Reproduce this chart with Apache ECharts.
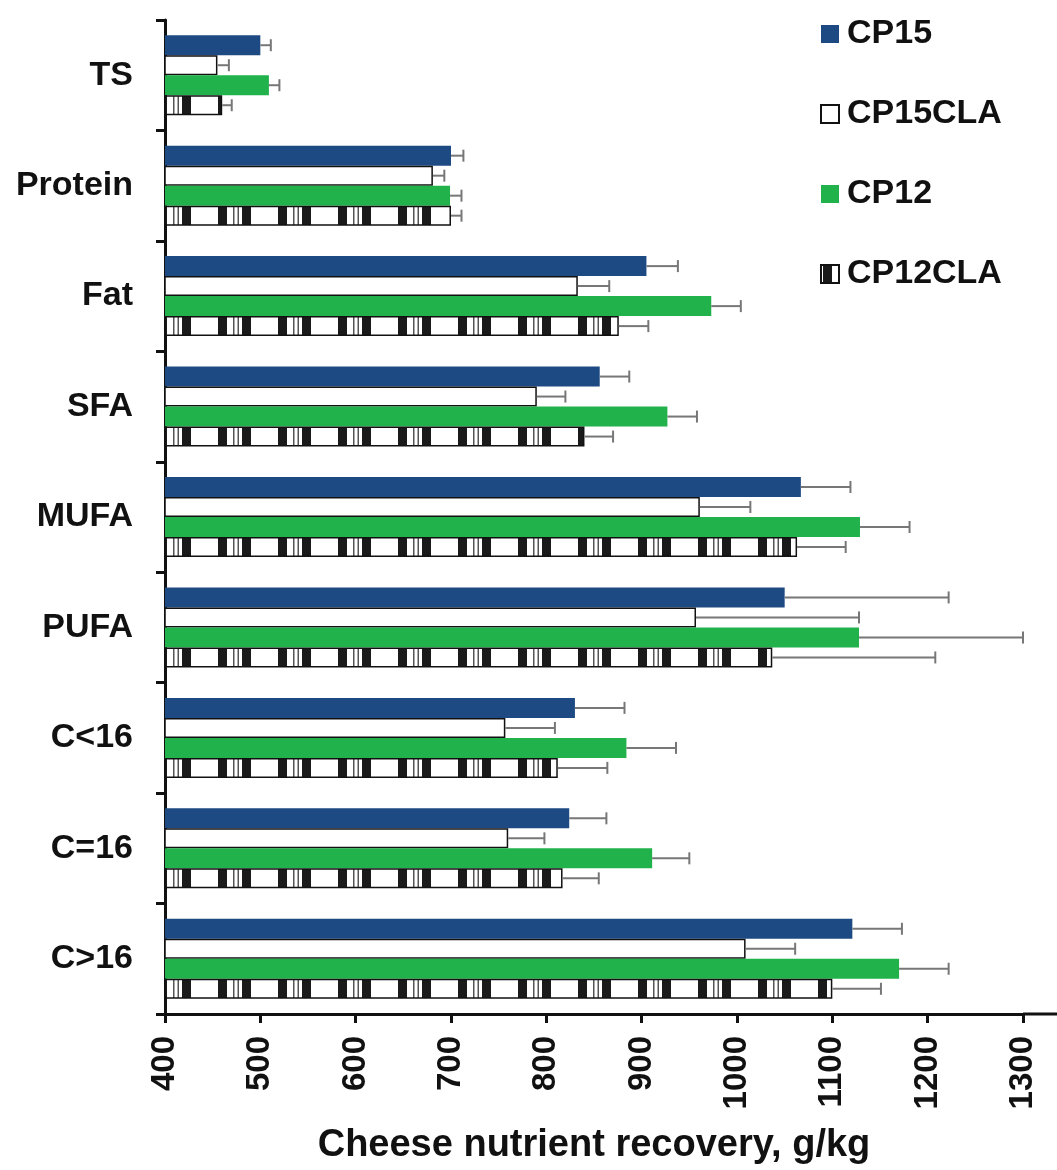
<!DOCTYPE html>
<html><head><meta charset="utf-8">
<script src="https://cdn.jsdelivr.net/npm/echarts@6/dist/echarts.min.js"></script>
<style>html,body{margin:0;padding:0;background:#fff}#c{width:1057px;height:1170px}</style>
</head><body><div id="c"></div>
<script>
// ---- data ----
const categories = ['TS', 'Protein', 'Fat', 'SFA', 'MUFA', 'PUFA', 'C<16', 'C=16', 'C>16'];
const seriesNames = ['CP15', 'CP15CLA', 'CP12', 'CP12CLA'];
const cp15      = [500, 700, 905, 856, 1067, 1050, 830, 824, 1121];
const cp15Err   = [11, 13, 33, 31, 52, 172, 52, 39, 52];
const cp15cla   = [455, 681, 833, 790, 961, 957, 757, 760, 1009];
const cp15claErr= [12, 12, 33, 30, 53, 171, 52, 38, 52];
const cp12      = [509, 699, 973, 927, 1129, 1128, 884, 911, 1170];
const cp12Err   = [11, 12, 31, 31, 52, 172, 52, 39, 52];
const cp12cla   = [460, 700, 876, 840, 1063, 1037, 812, 817, 1100];
const cp12claErr= [10, 11, 31, 30, 51, 171, 52, 38, 51];
const xTicks = [400, 500, 600, 700, 800, 900, 1000, 1100, 1200, 1300];
const xTitle = 'Cheese nutrient recovery, g/kg';

// ---- styles ----
const FONT = "'Liberation Sans', Arial, Helvetica, sans-serif";
const BAR_W = 20;
function makeStripe() {
  const c = document.createElement('canvas');
  c.width = 60; c.height = 20;
  const g = c.getContext('2d');
  g.fillStyle = '#fff'; g.fillRect(0, 0, 60, 20);
  const shift = 38;
  const parts = [[0, 9, '#1a1a1a'], [15, 1.5, '#555'], [19.5, 1.5, '#555'], [24, 9, '#1a1a1a']];
  parts.forEach(([x, w, col]) => {
    g.fillStyle = col;
    [-60, 0, 60].forEach(k => g.fillRect(x + shift + k, 0, w, 20));
  });
  return c;
}
const stripe = {image: makeStripe(), repeat: 'repeat'};

const values = [cp15, cp15cla, cp12, cp12cla];
const errs = [cp15Err, cp15claErr, cp12Err, cp12claErr];
const itemStyles = [
  {color: '#1e4a84'},
  {color: '#ffffff', borderColor: '#111', borderWidth: 1.5},
  {color: '#21b24c'},
  {color: stripe, borderColor: '#111', borderWidth: 1.5}
];

function errRender(i) {
  return function (params, api) {
    const v = api.value(0), cat = api.value(1), e = api.value(2);
    const p0 = api.coord([v, cat]);
    const p1 = api.coord([v + e, cat]);
    const y = p0[1] + (i - 1.5) * BAR_W;
    const st = {stroke: '#777', lineWidth: 2};
    return {type: 'group', children: [
      {type: 'line', shape: {x1: p0[0], y1: y, x2: p1[0], y2: y}, style: st},
      {type: 'line', shape: {x1: p1[0], y1: y - 6, x2: p1[0], y2: y + 6}, style: st}
    ]};
  };
}

const series = [];
seriesNames.forEach((n, i) => {
  series.push({
    name: n, type: 'bar', barWidth: BAR_W, barGap: '0%',
    itemStyle: itemStyles[i], emphasis: {disabled: true},
    data: values[i], z: 2
  });
});
seriesNames.forEach((n, i) => {
  series.push({
    type: 'custom', renderItem: errRender(i), z: 3, silent: true,
    encode: {x: 0, y: 1},
    data: values[i].map((v, k) => [v, k, errs[i][k]])
  });
});

const chart = echarts.init(document.getElementById('c'), null, {renderer: 'canvas'});
chart.setOption({
  animation: false,
  backgroundColor: '#fff',
  textStyle: {fontFamily: FONT},
  grid: {left: 165, right: 34, top: 20, bottom: 156, containLabel: false},
  legend: {
    orient: 'vertical', left: 815, top: 12, itemGap: 46,
    itemWidth: 18, itemHeight: 18, icon: 'rect',
    data: seriesNames,
    textStyle: {fontSize: 34, fontWeight: 'bold', color: '#111', fontFamily: FONT, padding: [0, 0, 0, 3]}
  },
  xAxis: {
    type: 'value', min: xTicks[0], max: xTicks[xTicks.length - 1], interval: 100,
    name: xTitle, nameLocation: 'middle', nameGap: 113,
    nameTextStyle: {fontSize: 38, fontWeight: 'bold', color: '#111', fontFamily: FONT},
    axisLine: {show: true, lineStyle: {color: '#111', width: 3}},
    axisTick: {show: true, length: 9, lineStyle: {color: '#111', width: 3}},
    axisLabel: {rotate: 90, margin: 22, fontSize: 33, fontWeight: 'bold', color: '#111', fontFamily: FONT,
      formatter: v => String(v)},
    splitLine: {show: false}
  },
  yAxis: {
    type: 'category', data: categories, inverse: true,
    axisLine: {show: true, lineStyle: {color: '#111', width: 3}},
    axisTick: {show: true, length: 9, lineStyle: {color: '#111', width: 3}},
    axisLabel: {margin: 32, fontSize: 34, fontWeight: 'bold', color: '#111', fontFamily: FONT},
    splitLine: {show: false}
  },
  series: series
});
// extend x axis line to the right edge like the original
const pEnd = chart.convertToPixel({xAxisIndex: 0}, xTicks[xTicks.length - 1]);
const gridBottom = 1170 - 156;
chart.setOption({graphic: [{type: 'line', shape: {x1: pEnd, y1: gridBottom, x2: 1057, y2: gridBottom},
  style: {stroke: '#111', lineWidth: 3}, z: 10}]});
</script></body></html>
